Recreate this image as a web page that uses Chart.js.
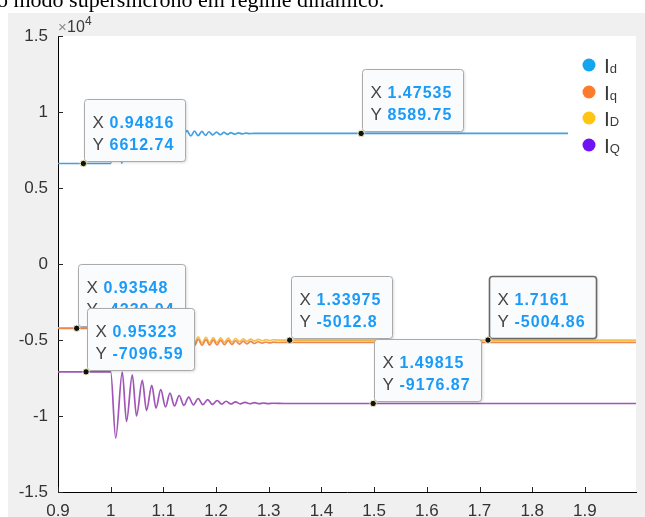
<!DOCTYPE html>
<html><head><meta charset="utf-8">
<script src="https://cdn.jsdelivr.net/npm/chart.js@4.4.0/dist/chart.umd.min.js"></script>
<style>
html,body{margin:0;padding:0;background:#fff;overflow:hidden}
#wrap{position:relative;width:645px;height:517px;overflow:hidden}
#cap{position:absolute;left:-3px;top:-11px;font:22px/22px "Liberation Serif","Times New Roman",serif;color:#000;white-space:nowrap;z-index:2}
canvas{position:absolute;left:0;top:0}
</style></head><body>
<div id="wrap"><canvas id="c" width="645" height="517"></canvas><div id="cap">o modo supersíncrono em regime dinâmico.</div></div>
<script>
// ---- data (time in s, current in A) ----
const tId = [0.9, 1.0, 1.0105, 1.021, 1.033, 1.046, 1.059, 1.072, 1.085, 1.098, 1.111, 1.124, 1.1308, 1.1378, 1.1448, 1.152, 1.159, 1.166, 1.173, 1.180, 1.1865, 1.1937, 1.2008, 1.208, 1.215, 1.2217, 1.2283, 1.2354, 1.2425, 1.2496, 1.2567, 1.264, 1.272, 1.285, 2.0];
const vId = [6612.74, 6612.74, 10300, 6620, 9900, 7500, 9500, 7900, 9200, 8150, 9000, 8300, 8850, 8400, 8770, 8420, 8750, 8440, 8730, 8460, 8700, 8490, 8680, 8510, 8660, 8530, 8640, 8545, 8625, 8560, 8610, 8575, 8595, 8589.75, 8589.75];

const tIqD = [0.9, 1.0, 1.008, 1.017, 1.027, 1.037, 1.048, 1.059, 1.070, 1.081, 1.092, 1.103, 1.114, 1.125, 1.136, 1.147, 1.159, 1.1662, 1.1735, 1.1808, 1.1878, 1.1947, 1.2017, 1.2087, 1.2159, 1.2231, 1.2302, 1.2372, 1.2444, 1.2516, 1.2586, 1.2656, 1.2729, 1.2801, 1.2874, 1.2947, 1.3016, 1.3085, 1.318, 1.33, 2.0];
const vIq = [-4230.04, -4230.04, -6000, -3900, -5900, -4300, -5700, -4500, -5550, -4650, -5450, -4750, -5400, -4850, -5350, -4900, -5360, -4950, -5355, -4970, -5340, -4990, -5325, -5010, -5310, -5030, -5290, -5050, -5270, -5075, -5250, -5095, -5230, -5115, -5210, -5130, -5195, -5145, -5165, -5160, -5160];
const vID = [-4205, -4205, -5850, -3750, -5750, -4150, -5550, -4350, -5400, -4500, -5300, -4600, -5250, -4700, -5200, -4750, -5200, -4800, -5200, -4820, -5185, -4840, -5170, -4860, -5150, -4880, -5130, -4900, -5110, -4920, -5090, -4940, -5070, -4955, -5050, -4970, -5040, -4985, -5010, -5005, -5004.86];

const tIQ = [0.9, 1.0, 1.0095, 1.022, 1.030, 1.041, 1.049, 1.060, 1.068, 1.078, 1.086, 1.095, 1.104, 1.1125, 1.121, 1.130, 1.139, 1.148, 1.157, 1.166, 1.175, 1.184, 1.193, 1.202, 1.211, 1.219, 1.228, 1.237, 1.246, 1.255, 1.264, 1.273, 1.282, 1.290, 1.299, 1.308, 1.33, 2.0];
const vIQ = [-7096.59, -7096.59, -11450, -7110, -10360, -7290, -9990, -7660, -9640, -7990, -9480, -8270, -9400, -8490, -9340, -8650, -9300, -8760, -9270, -8850, -9250, -8920, -9235, -8980, -9220, -9030, -9210, -9070, -9200, -9100, -9195, -9125, -9190, -9145, -9185, -9160, -9177, -9176.87];

const seriesNames = ['Id', 'Iq', 'ID', 'IQ'];
const legendMain = ['I', 'I', 'I', 'I'];
const legendSub = ['d', 'q', 'D', 'Q'];

const xTickValues = [0.9, 1.0, 1.1, 1.2, 1.3, 1.4, 1.5, 1.6, 1.7, 1.8, 1.9];
const xTickLabels = ['0.9', '1', '1.1', '1.2', '1.3', '1.4', '1.5', '1.6', '1.7', '1.8', '1.9'];
const yTickValues = [-15000, -10000, -5000, 0, 5000, 10000, 15000];
const yTickLabels = ['-1.5', '-1', '-0.5', '0', '0.5', '1', '1.5'];

// data tips (MATLAB style)
const tipX = [0.94816, 1.47535, 0.93548, 0.95323, 1.33975, 1.49815, 1.7161];
const tipY = [6612.74, 8589.75, -4230.04, -7096.59, -5012.8, -9176.87, -5004.86];
const tipSelected = [false, false, false, false, false, false, true];

// ---- styles ----
const lineColors = ['#45a0df', '#ee8650', '#f4c04a', '#a056b6'];
const markerColors = ['#12a6f0', '#ff7b2c', '#ffc414', '#7012f6'];

const pts = (t, v) => t.map((x, i) => ({x: x, y: v[i]}));

const bgPlugin = {
  id: 'bg',
  beforeDraw(chart) {
    const {ctx, chartArea: a} = chart;
    ctx.save();
    ctx.fillStyle = '#ffffff'; ctx.fillRect(0, 0, 645, 517);
    ctx.fillStyle = '#f0f0f0'; ctx.fillRect(8, 13, 637, 504);
    ctx.fillStyle = '#ffffff'; ctx.fillRect(a.left, a.top, a.right - a.left, a.bottom - a.top);
    ctx.restore();
  }
};

const decoPlugin = {
  id: 'deco',
  afterDraw(chart) {
    const ctx = chart.ctx, xs = chart.scales.x, ys = chart.scales.y, a = chart.chartArea;
    ctx.save();
    // inward ticks
    ctx.strokeStyle = '#262626'; ctx.lineWidth = 1;
    ctx.beginPath();
    xTickValues.forEach(v => { const p = Math.round(xs.getPixelForValue(v)) + 0.5; ctx.moveTo(p, a.bottom); ctx.lineTo(p, a.bottom - 5); });
    yTickValues.forEach(v => { const p = Math.round(ys.getPixelForValue(v)) + 0.5; ctx.moveTo(a.left, p); ctx.lineTo(a.left + 5, p); });
    ctx.stroke();
    // exponent
    ctx.fillStyle = '#8a8a8a'; ctx.font = '15px "Liberation Sans"'; ctx.textBaseline = 'alphabetic';
    ctx.fillText('\u00d7', 58, 32);
    ctx.fillStyle = '#3a3a3a'; ctx.font = '16px "Liberation Sans"';
    ctx.fillText('10', 67, 32);
    ctx.font = '12px "Liberation Sans"';
    ctx.fillText('4', 85, 25);

    // legend
    ctx.fillStyle = '#ffffff';
    ctx.fillRect(568, 48, a.right - 568, 114);
    const ly = [65, 92, 118, 145];
    for (let i = 0; i < legendMain.length; i++) {
      ctx.fillStyle = markerColors[i];
      ctx.beginPath(); ctx.arc(589, ly[i], 6.5, 0, Math.PI * 2); ctx.fill();
      ctx.fillStyle = '#3a3a3a';
      ctx.font = '21px "Liberation Sans"';
      ctx.fillText(legendMain[i], 604, ly[i] + 8);
      const w = ctx.measureText(legendMain[i]).width;
      ctx.font = '13px "Liberation Sans"';
      ctx.fillText(legendSub[i], 604 + w, ly[i] + 8);
    }

    // data tips
    for (let i = 0; i < tipX.length; i++) {
      const px = xs.getPixelForValue(tipX[i]), py = ys.getPixelForValue(tipY[i]);
      const sx = String(tipX[i]), sy = String(tipY[i]);
      ctx.font = 'bold 16px "Liberation Sans"';
      ctx.letterSpacing = '1px';
      const tw = Math.max(ctx.measureText(sx).width, ctx.measureText(sy).width);
      ctx.letterSpacing = '0px';
      const bw = Math.round(26 + tw + 10), bh = 62;
      const bx = Math.round(px) + 1.5, by = Math.round(py) - 1.5 - bh;
      ctx.save();
      ctx.shadowColor = 'rgba(0,0,0,0.18)'; ctx.shadowBlur = 3; ctx.shadowOffsetX = 1; ctx.shadowOffsetY = 1;
      ctx.fillStyle = '#fafbfd';
      ctx.beginPath(); ctx.roundRect(bx, by, bw, bh, 3); ctx.fill();
      ctx.restore();
      ctx.strokeStyle = tipSelected[i] ? '#6a6a6a' : '#aaaaaa';
      ctx.lineWidth = tipSelected[i] ? 1.6 : 1;
      ctx.beginPath(); ctx.roundRect(bx, by, bw, bh, 3); ctx.stroke();
      ctx.fillStyle = '#454545'; ctx.font = '17px "Liberation Sans"';
      ctx.fillText('X', bx + 8, by + 28);
      ctx.fillText('Y', bx + 8, by + 50);
      ctx.fillStyle = '#1a9bf8'; ctx.font = 'bold 16px "Liberation Sans"';
      ctx.letterSpacing = '1px';
      ctx.fillText(sx, bx + 25, by + 28);
      ctx.fillText(sy, bx + 25, by + 50);
      ctx.letterSpacing = '0px';
      // marker dot
      ctx.beginPath(); ctx.arc(px, py, 3.2, 0, Math.PI * 2);
      ctx.fillStyle = '#111'; ctx.fill();
      ctx.strokeStyle = '#f3f1c8'; ctx.lineWidth = 1; ctx.stroke();
    }
    ctx.restore();
  }
};

const mk = (i, t, v) => ({
  label: seriesNames[i], data: pts(t, v), borderColor: lineColors[i], backgroundColor: lineColors[i],
  borderWidth: 1.7, pointRadius: 0, fill: false, cubicInterpolationMode: 'monotone'
});

new Chart(document.getElementById('c'), {
  type: 'line',
  data: { datasets: [mk(0, tId, vId), mk(1, tIqD, vIq), mk(2, tIqD, vID), mk(3, tIQ, vIQ)] },
  options: {
    responsive: false, animation: false, devicePixelRatio: 1,
    layout: { padding: { top: 36, right: 9, left: 0, bottom: 0 } },
    plugins: { legend: { display: false }, tooltip: { enabled: false } },
    scales: {
      x: {
        type: 'linear', min: 0.9, max: 1.997,
        afterBuildTicks: s => { s.ticks = xTickValues.map(v => ({value: v})); },
        afterFit: s => { s.height = 25; },
        ticks: { autoSkip: false, maxRotation: 0, padding: 9.5, color: '#333333',
                 font: { family: 'Liberation Sans', size: 17 },
                 callback: (v, i) => xTickLabels[i] },
        grid: { display: true, drawOnChartArea: false, drawTicks: false },
        border: { display: true, color: '#000000', width: 1 }
      },
      y: {
        type: 'linear', min: -15000, max: 15000,
        afterBuildTicks: s => { s.ticks = yTickValues.map(v => ({value: v})); },
        afterFit: s => { s.width = 58; },
        ticks: { autoSkip: false, padding: 10, color: '#333333',
                 font: { family: 'Liberation Sans', size: 17 },
                 callback: (v, i) => yTickLabels[i] },
        grid: { display: true, drawOnChartArea: false, drawTicks: false },
        border: { display: true, color: '#000000', width: 1 }
      }
    }
  },
  plugins: [bgPlugin, decoPlugin]
});
</script>
</body></html>
